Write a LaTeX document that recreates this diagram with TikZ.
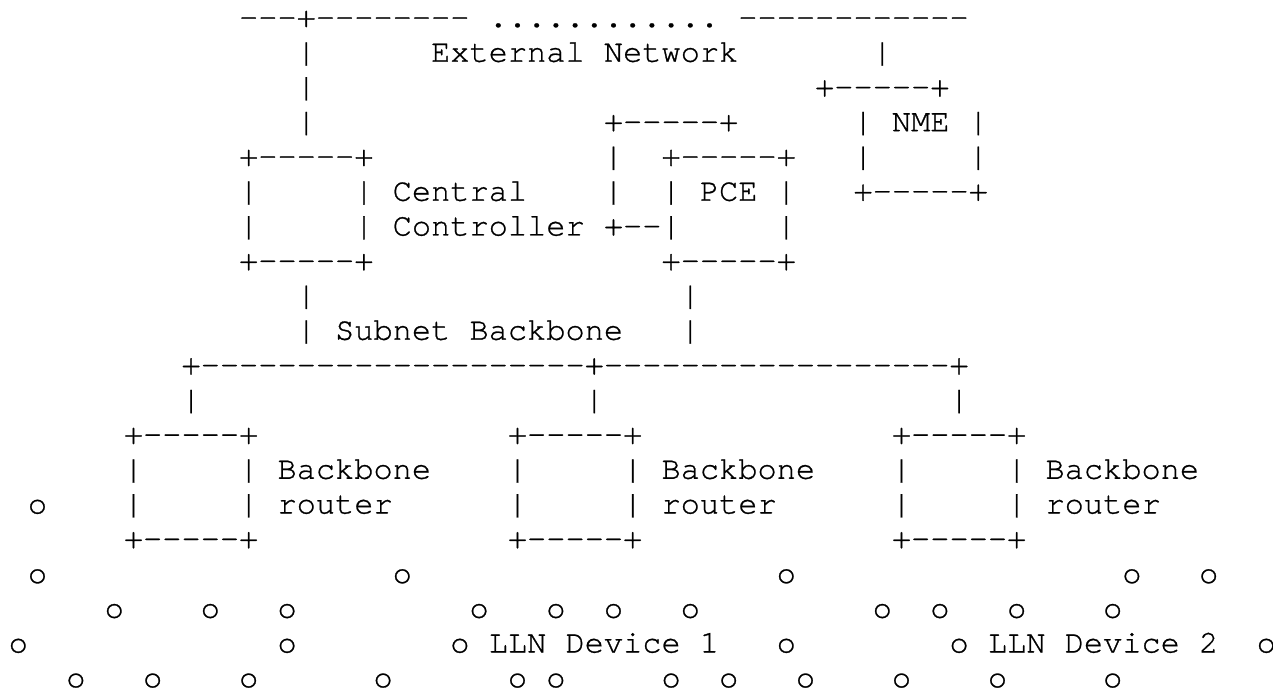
\documentclass[tikz,border=0pt]{standalone}
\usepackage{fontspec}
\setmonofont[FakeBold=0.8]{TeX Gyre Cursor}
\tikzset{
  txt/.style={anchor=base west, inner sep=0pt, outer sep=0pt,
    font=\ttfamily\fontsize{16pt}{17pt}\selectfont, text=black}
}
% #1 = column, #2 = line, #3 = text
\newcommand\asc[3]{\node[txt] (r#2c#1) at ({4.35pt+9.6pt*#1},{332pt-17.375pt*(#2-1)}) {#3};}
\begin{document}
\begin{tikzpicture}
\useasboundingbox[fill=white] (0,0) rectangle (636.5pt,345.5pt);
% line 1
\asc{12}{1}{---+--------}
\asc{25}{1}{............}
\asc{38}{1}{------------}
% line 2
\asc{15}{2}{|}
\asc{22}{2}{External Network}
\asc{45}{2}{|}
% line 3
\asc{15}{3}{|}
\asc{42}{3}{+-----+}
% line 4
\asc{15}{4}{|}
\asc{31}{4}{+-----+}
\asc{44}{4}{| NME |}
% line 5
\asc{12}{5}{+-----+}
\asc{31}{5}{|}
\asc{34}{5}{+-----+}
\asc{44}{5}{|}
\asc{50}{5}{|}
% line 6
\asc{12}{6}{|}
\asc{18}{6}{| Central}
\asc{31}{6}{|}
\asc{34}{6}{| PCE |}
\asc{44}{6}{+-----+}
% line 7
\asc{12}{7}{|}
\asc{18}{7}{| Controller +--|}
\asc{40}{7}{|}
% line 8
\asc{12}{8}{+-----+}
\asc{34}{8}{+-----+}
% line 9
\asc{15}{9}{|}
\asc{35}{9}{|}
% line 10
\asc{15}{10}{| Subnet Backbone}
\asc{35}{10}{|}
% line 11
\asc{9}{11}{+--------------------+------------------+}
% line 12
\asc{9}{12}{|}
\asc{30}{12}{|}
\asc{49}{12}{|}
% line 13
\asc{6}{13}{+-----+}
\asc{26}{13}{+-----+}
\asc{46}{13}{+-----+}
% line 14
\asc{6}{14}{|}
\asc{12}{14}{| Backbone}
\asc{26}{14}{|}
\asc{32}{14}{| Backbone}
\asc{46}{14}{|}
\asc{52}{14}{| Backbone}
% line 15
\asc{1}{15}{o}
\asc{6}{15}{|}
\asc{12}{15}{| router}
\asc{26}{15}{|}
\asc{32}{15}{| router}
\asc{46}{15}{|}
\asc{52}{15}{| router}
% line 16
\asc{6}{16}{+-----+}
\asc{26}{16}{+-----+}
\asc{46}{16}{+-----+}
% line 17
\foreach \c in {1,20,40,58,62} {\asc{\c}{17}{o}}
% line 18
\foreach \c in {5,10,14,24,28,31,35,45,48,52,57} {\asc{\c}{18}{o}}
% line 19
\asc{0}{19}{o}
\asc{14}{19}{o}
\asc{23}{19}{o LLN Device 1}
\asc{40}{19}{o}
\asc{49}{19}{o LLN Device 2}
\asc{65}{19}{o}
% line 20
\foreach \c in {3,7,12,19,26,28,34,37,41,46,51,57} {\asc{\c}{20}{o}}
\end{tikzpicture}
\end{document}
